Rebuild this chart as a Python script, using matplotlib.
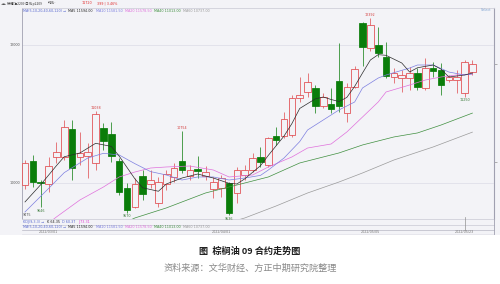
import matplotlib
matplotlib.use('Agg')
import matplotlib.pyplot as plt
from matplotlib.patches import Rectangle
from matplotlib.lines import Line2D
from matplotlib.transforms import blended_transform_factory

# Daily OHLC of palm oil contract p2209
opens = [9971, 10319, 10010, 9981, 10381, 10381, 10787, 10381, 10391, 10285,
         10801, 10710, 10323, 9923, 9657, 10101, 9986, 9706, 9986, 10091,
         10323, 10101, 10198, 10101, 9909, 9923, 9995, 9851, 10116, 10188,
         10381, 10261, 10681, 10681, 10696, 11227, 11323, 11372, 11116, 11145,
         11483, 11010, 11395, 12323, 11952, 12000, 11830, 11540, 11517, 11517,
         11590, 11372, 11662, 11637, 11492, 11492, 11300, 11613]
highs = [10333, 10406, 10043, 10381, 10598, 10913, 10913, 10743, 10580, 11038,
         10869, 10888, 10362, 10000, 10072, 10188, 10188, 10091, 10188, 10290,
         10754, 10261, 10391, 10240, 10091, 10116, 10010, 10236, 10261, 10435,
         10526, 10671, 10816, 11033, 11275, 11540, 11598, 11420, 11300, 11372,
         12024, 11445, 11700, 12340, 12392, 12260, 12047, 11662, 11637, 11686,
         11662, 11807, 11758, 11734, 11565, 11637, 11782, 11782]
lows = [9913, 9946, 9646, 9874, 10290, 10333, 10043, 10261, 10072, 10188,
        10478, 10309, 9826, 9570, 9638, 9754, 9923, 9657, 9900, 10014,
        10140, 10043, 10072, 10043, 9778, 9802, 9536, 9706, 10043, 10164,
        10236, 10236, 10551, 10648, 10671, 11178, 11251, 11010, 11082, 11010,
        11024, 10888, 11372, 11690, 11917, 11830, 11517, 11445, 11323, 11348,
        11348, 11348, 11540, 11275, 11468, 11300, 11250, 11565]
closes = [10294, 10019, 9995, 10246, 10449, 10811, 10222, 10439, 10454, 11000,
          10613, 10391, 9865, 9609, 9986, 9836, 10043, 10019, 10126, 10217,
          10188, 10188, 10169, 10164, 10019, 10068, 9561, 10188, 10188, 10367,
          10304, 10648, 10623, 10923, 11236, 11275, 11468, 11116, 11251, 11068,
          11116, 11395, 11648, 11975, 12290, 11880, 11550, 11598, 11565, 11598,
          11395, 11670, 11627, 11420, 11540, 11540, 11758, 11720]

# Moving averages (candle index, value)
ma5_idx = [0, 2, 4, 5, 7, 9, 11, 12, 14, 15, 17, 18, 20, 22, 24, 26, 27, 28, 30,
           31, 33, 34, 35, 37, 38, 39, 40, 41, 42, 43, 44, 45, 46, 48, 49, 50, 52,
           53, 54, 56, 57]
ma5_val = [9725, 9975, 10250, 10380, 10435, 10575, 10530, 10390, 10060, 9930,
           9880, 9985, 10072, 10130, 10072, 9995, 9986, 10060, 10250, 10400, 10680,
           10860, 11080, 11220, 11246, 11210, 11180, 11240, 11400, 11594, 11782,
           11860, 11850, 11739, 11608, 11670, 11710, 11650, 11536, 11565, 11594]
ma10_idx = [0, 3, 5, 8, 10, 12, 14, 16, 18, 20, 22, 24, 26, 28, 30, 31, 33, 35,
            36, 38, 40, 42, 43, 45, 46, 49, 50, 52, 54, 56, 57]
ma10_val = [9580, 9920, 10150, 10362, 10430, 10406, 10280, 10165, 10116, 10043,
            10087, 10087, 10043, 10072, 10110, 10188, 10362, 10600, 10768, 10913,
            11058, 11174, 11377, 11521, 11565, 11666, 11710, 11710, 11608, 11565,
            11581.5]
ma20_idx = [3, 4, 7, 10, 12, 14, 16, 18, 21, 24, 26, 29, 31, 34, 36, 39, 41, 43,
            45, 46, 49, 51, 53, 55, 57]
ma20_val = [9420, 9507, 9754, 9942, 10087, 10159, 10217, 10232, 10246, 10188,
            10087, 10116, 10232, 10377, 10507, 10565, 10739, 10956, 11174, 11319,
            11420, 11492, 11536, 11565, 11578.5]
ma40_idx = [13, 14, 18, 23, 27, 31, 35, 40, 43, 47, 50, 53, 57]
ma40_val = [9440, 9493, 9638, 9855, 9971, 10087, 10290, 10435, 10551, 10667,
            10725, 10840, 11013]
ma60_idx = [27, 28, 32, 36, 40, 43, 47, 52, 57]
ma60_val = [9460, 9493, 9667, 9855, 10014, 10145, 10333, 10522, 10737]

price_ticks = [10000, 12000]
right_ticks = [10304, 11724]
axis_min_label = "9475"
high_marks = [9, 20, 44]
low_marks = [2, 13, 26, 56]
date_idx = [3, 25, 44, 56]
date_labels = ["2022/03/01", "2022/04/01", "2022/05/05", "2022/05/23"]

ma_names = ["MA5", "MA10", "MA20", "MA40", "MA60"]
ma_last = ["11594.00", "11581.50", "11578.50", "11013.00", "10737.00"]
ma_colors = ["#2b2b2b", "#7d7fe0", "#e070dc", "#3f8f3f", "#9a9a9a"]
kdj_names = ["K", "D", "J"]
kdj_last = ["64.35", "60.37", "73.31"]
kdj_colors = ["#222222", "#5a6ad0", "#e040d0"]

UP = "#e0474c"
DOWN = "#0a7d0a"
BG = "#f3f3f7"
CJK = ["Noto Sans CJK SC", "DejaVu Sans"]
SMALL = 2.4

W, H = 500, 284
fig = plt.figure(figsize=(5, 2.84), dpi=100)
fig.patch.set_facecolor("white")
renderer = fig.canvas.get_renderer()


def fx(px):
    return px / W


def fy(py):
    return 1 - py / H


def text_row(x0, y, parts, size=SMALL, gap=2.5):
    """Write coloured text segments one after another on a single line."""
    x = x0
    for s, col, fam in parts:
        t = fig.text(fx(x), fy(y), s, fontsize=size, color=col, va="center",
                     family=fam)
        x += t.get_window_extent(renderer).width + gap
    return x


fig.add_artist(Rectangle((0, fy(235)), 1, 1 - fy(235), transform=fig.transFigure,
                         facecolor=BG, edgecolor="none", zorder=0))

ax = fig.add_axes([fx(22), fy(219), fx(494) - fx(22), fy(8) - fy(219)])
ax.set_facecolor(BG)
ax.set_xlim(-0.38, 59.75)
ax.set_ylim(9478, 12536)

# grid and axes
ax.set_yticks(price_ticks)
ax.set_yticklabels([str(t) for t in price_ticks], fontsize=SMALL, color="#555555")
ax.tick_params(axis="y", length=0, pad=1)
ax.set_xticks([])
ax.grid(axis="y", color="#dcdce6", lw=0.5)
for s in ["left", "right"]:
    ax.spines[s].set_color("#a0a0b0")
    ax.spines[s].set_linewidth(0.6)
for s in ["top", "bottom"]:
    ax.spines[s].set_color("#d0d0da")
    ax.spines[s].set_linewidth(0.6)
sec = ax.secondary_yaxis("right")
sec.set_yticks(right_ticks)
sec.set_yticklabels(["", ""])
sec.tick_params(length=2, width=0.5, color="#909090")
sec.spines["right"].set_color("#a0a0b0")

# candles
n = len(closes)
for i in range(n):
    o, h, l, c = opens[i], highs[i], lows[i], closes[i]
    up = c >= o
    col = UP if up else DOWN
    ax.vlines(i, l, h, color=col, lw=0.5, zorder=2)
    bottom = min(o, c)
    height = max(abs(c - o), 12)
    ax.bar(i, height, bottom=bottom, width=0.84,
           facecolor=BG if up else DOWN, edgecolor=col, lw=0.55, zorder=3)

# moving averages
for idx, val, col in [(ma60_idx, ma60_val, ma_colors[4]),
                      (ma40_idx, ma40_val, ma_colors[3]),
                      (ma20_idx, ma20_val, ma_colors[2]),
                      (ma10_idx, ma10_val, ma_colors[1]),
                      (ma5_idx, ma5_val, ma_colors[0])]:
    ax.plot(idx, val, color=col, lw=0.5, zorder=4)

# extreme labels
for i in high_marks:
    ax.annotate(str(highs[i]), (i, highs[i]), xytext=(0, 1), textcoords="offset points",
                ha="center", va="bottom", fontsize=SMALL, color="#d33a3a", zorder=5)
for i in low_marks:
    ax.annotate(str(lows[i]), (i, lows[i]), xytext=(0, -1.2), textcoords="offset points",
                ha="center", va="top", fontsize=SMALL, color="#3a7a3a", zorder=5)
fig.text(fx(23), fy(215.5), axis_min_label, fontsize=SMALL, color="#555555", va="center")

# header
text_row(1, 3.5, [("◄► 棕榈油2209 日线 p2209", "#333333", CJK),
                  ("均线~", "#333333", CJK)], gap=6)
text_row(82, 3.5, [("11720", "#e03030", "DejaVu Sans"),
                   ("399 | 3.46%", "#e03030", "DejaVu Sans")], gap=4)
fig.text(fx(481), fy(10), "Select", fontsize=SMALL, color="#7aa0d0", va="center")


def ma_row(y, x0):
    parts = [("MA(5,10,20,40,60,120) →", "#5a6ad0", "DejaVu Sans")]
    parts += [(f"{nm} {v}", col, "DejaVu Sans")
              for nm, v, col in zip(ma_names, ma_last, ma_colors)]
    text_row(x0, y, parts)


ma_row(10.5, 23)

# lower strip
for py, col in [(225, "#c8c8d4"), (229.5, "#b8b8c4"), (233.5, "#e2e2ea")]:
    fig.add_artist(Line2D([fx(22), fx(494)], [fy(py), fy(py)], transform=fig.transFigure,
                          color=col, lw=0.5))
fig.add_artist(Line2D([fx(494), fx(494)], [fy(219), fy(234)], transform=fig.transFigure,
                      color="#a0a0b0", lw=0.6))
kdj_parts = [("KDJ(9,3,3) →", "#5a6ad0", "DejaVu Sans")]
kdj_parts += [(f"{nm} {v}", col, "DejaVu Sans")
              for nm, v, col in zip(kdj_names, kdj_last, kdj_colors)]
text_row(23, 222, kdj_parts)
ma_row(227.3, 23)

tr = blended_transform_factory(ax.transData, fig.transFigure)
for i, lab in zip(date_idx, date_labels):
    fig.text(i, fy(231.7), lab, transform=tr, fontsize=SMALL, color="#777777",
             ha="center", va="center")
cursor = date_idx[-1]
fig.add_artist(Line2D([cursor, cursor], [fy(217), fy(229.5)], transform=tr,
                      color="#909090", lw=0.5))

# caption
fig.text(0.5, fy(251), "图  棕榈油 09 合约走势图", fontsize=6.6, color="#1e1e1e",
         ha="center", va="center", family=CJK, weight="bold")
fig.text(0.5, fy(268), "资料来源：文华财经、方正中期研究院整理", fontsize=6.6,
         color="#8a8a8a", ha="center", va="center", family=CJK)

fig.savefig("out.png", dpi=100)
